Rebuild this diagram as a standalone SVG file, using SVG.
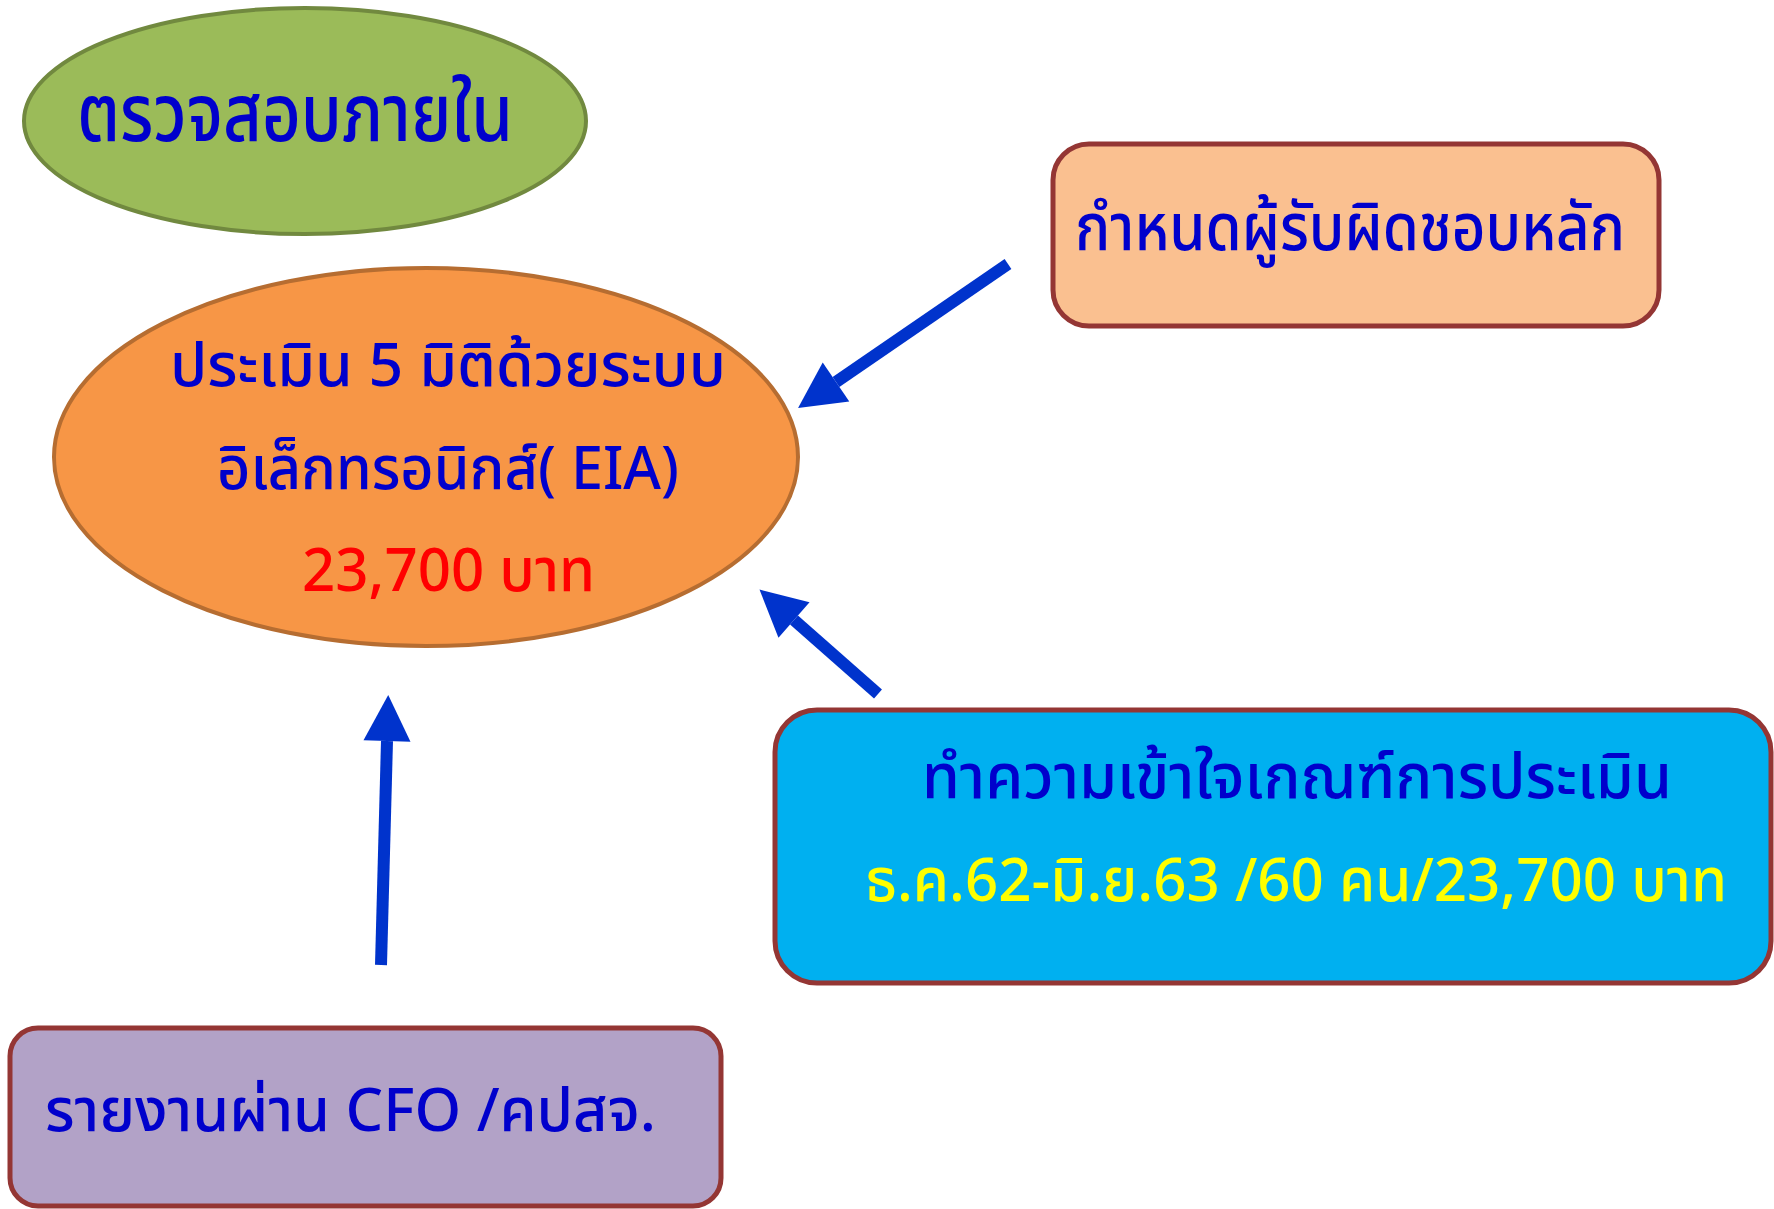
<svg xmlns="http://www.w3.org/2000/svg" width="1774" height="1209" viewBox="0 0 1774 1209">
<style>
text{font-family:"Noto Sans Thai","Noto Sans","DejaVu Sans",sans-serif;font-weight:500;}
.b{fill:#0000cc;}
.box{stroke:#943634;stroke-width:5;}
.arr{stroke:#0033cc;stroke-width:12;fill:none;}
</style>
<defs>
<marker id="ah" markerUnits="userSpaceOnUse" markerWidth="48" markerHeight="48" refX="0" refY="23.5" orient="auto" overflow="visible">
<path d="M0,0 L46,23.5 L0,47 z" fill="#0033cc"/>
</marker>
</defs>
<rect width="1774" height="1209" fill="#ffffff"/>
<g id="node-internal">
<ellipse cx="305" cy="121" rx="281" ry="113" fill="#9bbb59" stroke="#71893f" stroke-width="4"/>
<text class="b" x="77" y="141" font-size="80" font-weight="600" textLength="436" lengthAdjust="spacingAndGlyphs">ตรวจสอบภายใน</text>
</g>
<g id="node-eia">
<ellipse cx="426" cy="457" rx="372" ry="189" fill="#f79646" stroke="#b66d31" stroke-width="4"/>
<text class="b" x="170" y="386" font-size="60" textLength="556" lengthAdjust="spacingAndGlyphs">ประเมิน 5 มิติด้วยระบบ</text>
<text class="b" x="217" y="489" font-size="60" textLength="462" lengthAdjust="spacingAndGlyphs">อิเล็กทรอนิกส์( EIA)</text>
<text x="302" y="591" font-size="60" fill="#ff0000" textLength="293" lengthAdjust="spacingAndGlyphs">23,700 บาท</text>
</g>
<g id="node-owner">
<rect class="box" x="1053" y="144" width="606" height="182" rx="36" fill="#fac090"/>
<text class="b" x="1075" y="250" font-size="66" textLength="550" lengthAdjust="spacingAndGlyphs">กำหนดผู้รับผิดชอบหลัก</text>
</g>
<g id="node-criteria">
<rect class="box" x="775" y="710" width="996" height="273" rx="42" fill="#00b0f0"/>
<text class="b" x="922" y="798" font-size="62" textLength="750" lengthAdjust="spacingAndGlyphs">ทำความเข้าใจเกณฑ์การประเมิน</text>
<text x="865" y="901" font-size="60" fill="#ffff00" textLength="862" lengthAdjust="spacingAndGlyphs">ธ.ค.62-มิ.ย.63 /60 คน/23,700 บาท</text>
</g>
<g id="node-report">
<rect class="box" x="10" y="1028" width="711" height="178" rx="28" fill="#b2a2c7"/>
<text class="b" x="45" y="1131" font-size="60" textLength="611" lengthAdjust="spacingAndGlyphs">รายงานผ่าน CFO /คปสจ.</text>
</g>
<g id="connectors">
<line class="arr" x1="1008" y1="264" x2="836" y2="382" marker-end="url(#ah)"/>
<line class="arr" x1="878" y1="694" x2="794" y2="620" marker-end="url(#ah)"/>
<line class="arr" x1="381" y1="965" x2="387" y2="741" stroke-width="13" marker-end="url(#ah)"/>
</g>
</svg>
